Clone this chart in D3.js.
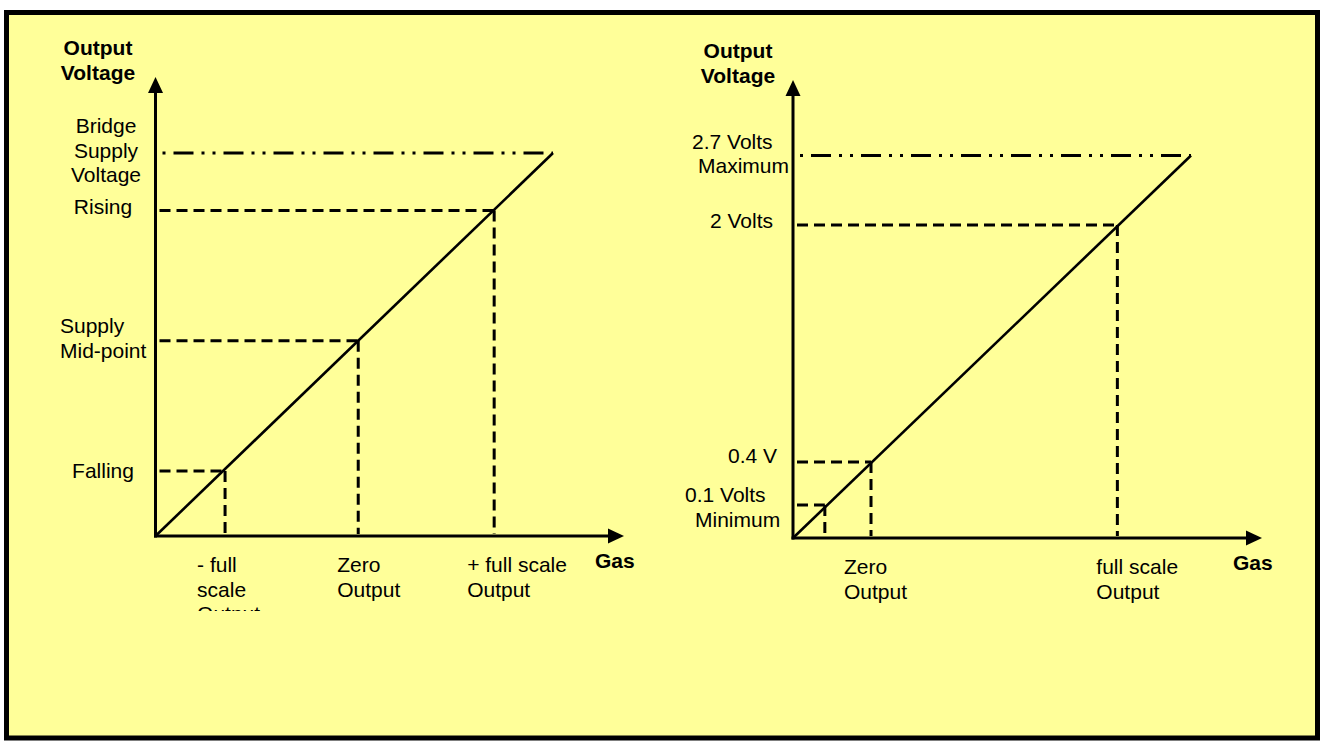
<!DOCTYPE html>
<html>
<head>
<meta charset="utf-8">
<script src="https://cdn.jsdelivr.net/npm/d3@7/dist/d3.min.js"></script>
<style>
  body { margin: 0; background: #fff; }
  text { font-family: "Liberation Sans", Arial, sans-serif; font-size: 21px; fill: #000; }
  .bold { font-weight: bold; }
</style>
</head>
<body>
<div id="chart"></div>
<script>
// ---- data: positions along the response line, as fraction of full range ----
// left chart (bridge output)
var leftLevelNames = [["Falling"], ["Supply", "Mid-point"], ["Rising"]];
var leftLevelY = [0.17, 0.51, 0.85];
var leftLevelX = [0.175, 0.51, 0.852];
var leftMaxName = ["Bridge", "Supply", "Voltage"];
var leftGasNames = [["- full", "scale", "Output"], ["Zero", "Output"], ["+ full scale", "Output"]];

// right chart (amplified output)
var rightLevelNames = [["0.1 Volts", "Minimum"], ["0.4 V"], ["2 Volts"]];
var rightLevelY = [0.086, 0.199, 0.818];
var rightLevelX = [0.08, 0.196, 0.815];
var rightMaxName = ["2.7 Volts", "Maximum"];
var rightGasNames = [null, ["Zero", "Output"], ["full scale", "Output"]];

var axisTitle = ["Output", "Voltage"];
var gasTitle = "Gas";

// set graph dimensions
var svgWidth = 1323;
var svgHeight = 745;

var svg = d3.select('#chart')
  .append("svg")
  .attr("width", svgWidth)
  .attr("height", svgHeight);

// yellow panel with heavy border
svg.append("rect")
  .attr("x", 6.5)
  .attr("y", 12.5)
  .attr("width", 1311)
  .attr("height", 725.5)
  .attr("fill", "#ffff99")
  .attr("stroke", "#000")
  .attr("stroke-width", 5);

svg.append("clipPath")
  .attr("id", "cutoff")
  .append("rect")
  .attr("x", 0).attr("y", 0).attr("width", svgWidth).attr("height", 611);

function multiLine(g, lines, x, y, lineHeight, anchor, cls) {
  var t = g.append("text")
    .attr("text-anchor", anchor || "start")
    .attr("class", cls || null);
  lines.forEach(function(s, i) {
    t.append("tspan").attr("x", x).attr("y", y + i * lineHeight).text(s);
  });
  return t;
}

function drawChart(cfg) {
  var xScale = d3.scaleLinear().domain([0, 1]).range([cfg.left, cfg.right]);
  var yScale = d3.scaleLinear().domain([0, 1]).range([cfg.bottom, cfg.top]);
  var g = svg.append("g");

  var x0 = xScale(0), y0 = yScale(0);

  // axes
  g.append("line")
    .attr("x1", x0).attr("y1", y0 + 1.5)
    .attr("x2", x0).attr("y2", cfg.yTip + 10)
    .attr("stroke", "#000").attr("stroke-width", 3);
  g.append("path")
    .attr("d", `M${x0 - 7.5},${cfg.yTip + 16} L${x0},${cfg.yTip} L${x0 + 7.5},${cfg.yTip + 16} Z`)
    .attr("fill", "#000");

  g.append("line")
    .attr("x1", x0 - 1.5).attr("y1", y0)
    .attr("x2", cfg.xTip - 10).attr("y2", y0)
    .attr("stroke", "#000").attr("stroke-width", 3);
  g.append("path")
    .attr("d", `M${cfg.xTip - 16},${y0 - 7.5} L${cfg.xTip},${y0} L${cfg.xTip - 16},${y0 + 7.5} Z`)
    .attr("fill", "#000");

  // supply / maximum line
  g.append("line")
    .attr("x1", x0 + 7).attr("y1", yScale(1))
    .attr("x2", xScale(1)).attr("y2", yScale(1))
    .attr("stroke", "#000").attr("stroke-width", 3)
    .attr("stroke-dasharray", "3,8,20,8,3,8");

  // response line
  g.append("line")
    .attr("x1", x0).attr("y1", y0)
    .attr("x2", xScale(1)).attr("y2", yScale(1))
    .attr("stroke", "#000").attr("stroke-width", 2.6);

  // dashed level markers
  var idx = d3.range(cfg.levelY.length);
  g.selectAll(".hdash").data(idx).enter().append("line")
    .attr("x1", x0 + 4).attr("x2", i => xScale(cfg.levelX[i]))
    .attr("y1", i => yScale(cfg.levelY[i])).attr("y2", i => yScale(cfg.levelY[i]))
    .attr("stroke", "#000").attr("stroke-width", 3)
    .attr("stroke-dasharray", "11,6");
  g.selectAll(".vdash").data(idx).enter().append("line")
    .attr("x1", i => xScale(cfg.levelX[i])).attr("x2", i => xScale(cfg.levelX[i]))
    .attr("y1", i => yScale(cfg.levelY[i])).attr("y2", y0 - 2)
    .attr("stroke", "#000").attr("stroke-width", 3)
    .attr("stroke-dasharray", "11,6");

  // titles
  multiLine(g, axisTitle, cfg.titleX, cfg.titleY, 24.5, "middle", "bold");
  g.append("text").attr("class", "bold")
    .attr("x", cfg.gasX).attr("y", y0 + 32).text(gasTitle);

  // level labels
  cfg.maxLabel(g, yScale(1));
  idx.forEach(function(i) {
    var p = cfg.levelPos[i];
    multiLine(g, cfg.levelNames[i], p[0], yScale(cfg.levelY[i]) + p[1], 25, p[2]);
  });

  // gas labels
  idx.forEach(function(i) {
    if (!cfg.gasNames[i]) return;
    var t = multiLine(g, cfg.gasNames[i], xScale(cfg.levelX[i]) + cfg.gasDx[i], y0 + 36, 24.5, "start");
    if (cfg.gasNames[i].length > 2) t.attr("clip-path", "url(#cutoff)");
  });
}

drawChart({
  left: 155.5, right: 553, bottom: 536, top: 153,
  yTip: 77, xTip: 624,
  levelX: leftLevelX, levelY: leftLevelY,
  levelNames: leftLevelNames,
  levelPos: [[103, 7, "middle"], [60, -8, "start"], [103, 4, "middle"]],
  gasNames: leftGasNames, gasDx: [-28, -21, -27],
  titleX: 98, titleY: 55, gasX: 595,
  maxLabel: function(g, y) { multiLine(g, leftMaxName, 106, y - 20, 24.5, "middle"); }
});

drawChart({
  left: 793, right: 1191, bottom: 538, top: 155.5,
  yTip: 80, xTip: 1262,
  levelX: rightLevelX, levelY: rightLevelY,
  levelNames: rightLevelNames,
  levelPos: [[685, -3, "start"], [728, 1, "start"], [710, 3, "start"]],
  gasNames: rightGasNames, gasDx: [0, -27, -21],
  titleX: 738, titleY: 58, gasX: 1233,
  maxLabel: function(g, y) {
    g.append("text").attr("x", 692).attr("y", y - 7).text(rightMaxName[0]);
    g.append("text").attr("x", 698).attr("y", y + 17).text(rightMaxName[1]);
  }
});

// indent second line of the "0.1 Volts Minimum" label
svg.selectAll("tspan").filter(function() { return this.textContent === "Minimum"; })
  .attr("x", 695);
</script>
</body>
</html>
